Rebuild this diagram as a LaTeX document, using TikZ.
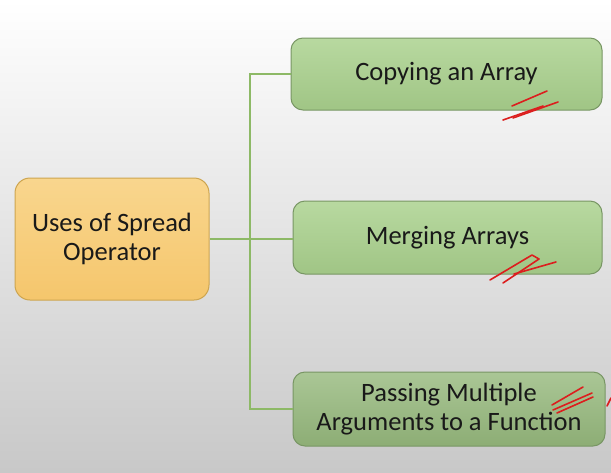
\documentclass[tikz,border=0pt]{standalone}
\usepackage{fontspec}
\setmainfont{Carlito}
\usetikzlibrary{positioning, calc}

\definecolor{rootfill}{RGB}{249,214,142}
\definecolor{rootfilldk}{RGB}{245,198,108}
\definecolor{rootline}{RGB}{205,165,80}
\definecolor{usefill}{RGB}{184,217,160}
\definecolor{usefilldk}{RGB}{160,197,133}
\definecolor{useline}{RGB}{120,150,100}
\definecolor{linkgreen}{RGB}{141,185,102}
\definecolor{inkred}{RGB}{220,30,30}
\definecolor{textdark}{RGB}{25,25,25}
\definecolor{bggray}{RGB}{200,200,200}

\begin{document}
\begin{tikzpicture}[
  x=1pt, y=-1pt,
  rootbox/.style={draw=rootline, line width=1pt, rounded corners=15pt, top color=rootfill, bottom color=rootfilldk, minimum width=194pt, minimum height=122pt, align=center, text=textdark, font=\fontsize{26.5}{29}\selectfont},
  usebox/.style={draw=useline, line width=1pt, rounded corners=12pt, top color=usefill, bottom color=usefilldk, minimum height=72pt, align=center, text=textdark, font=\fontsize{26.5}{29}\selectfont},
  link/.style={draw=linkgreen, line width=1.8pt},
  scribble/.style={draw=inkred, line width=1.6pt, line cap=round, line join=round}
]
% Background
\shade[top color=white, middle color=white, bottom color=bggray] (0,0) rectangle (611,472);
\useasboundingbox (0,0) rectangle (611,472);

% Root
\node[rootbox] (root) at (112,239) {Uses of Spread\\Operator};

% Uses
\node[usebox, minimum width=311pt] (copy) at (446.5,74) {Copying an Array};
\node[usebox, minimum width=309pt, minimum height=73pt] (merge) at (447.5,237.5) {Merging Arrays};
\node[usebox, minimum width=312pt, minimum height=74pt, top color=usefill!90!black!95, bottom color=usefilldk!88!black] (pass) at (449,409) {Passing Multiple\\Arguments to a Function};

% Connectors
\coordinate (trunk) at (250,239);
\draw[link] (root.east) -- (trunk);
\draw[link] (trunk) |- (copy.west);
\draw[link] (trunk) -- (trunk -| merge.west);
\draw[link] (trunk) |- (pass.west);

% Red pen marks
\draw[scribble] (512,106) -- (547,91);
\draw[scribble] (513,118) -- (558,102);
\draw[scribble] (503,120) -- (543,106);
\draw[scribble] (490,280) -- (532,255) -- (539,259) -- (503,283);
\draw[scribble] (514,274) -- (556,262);
\draw[scribble] (552,405) -- (583,387);
\draw[scribble] (553,410) -- (592,393);
\draw[scribble] (557,413) -- (593,397);
\draw[scribble] (607,406) -- (611,398);

\end{tikzpicture}
\end{document}
